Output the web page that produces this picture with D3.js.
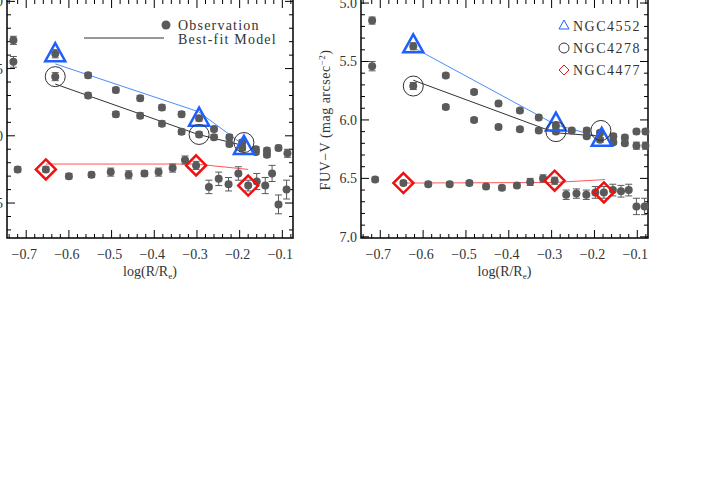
<!DOCTYPE html>
<html><head><meta charset="utf-8">
<script src="https://cdn.jsdelivr.net/npm/d3@7"></script>
<style>body{margin:0;background:#fff}svg{display:block}text{font-family:"Liberation Serif",serif;fill:#333}</style>
</head><body><svg id="c" width="706" height="504"></svg>
<script>
// left panel observations
const leftX = [-0.73,-0.73,-0.632,-0.632,-0.555,-0.555,-0.49,-0.49,-0.433,-0.433,-0.382,-0.382,-0.336,-0.336,-0.295,-0.295,-0.26,-0.26,-0.224,-0.224,-0.194,-0.194,-0.162,-0.162,-0.136,-0.136,-0.109,-0.088,
  -0.72,-0.654,-0.60,-0.547,-0.502,-0.46,-0.423,-0.39,-0.357,-0.328,-0.302,-0.272,-0.249,-0.226,-0.203,-0.18,-0.16,-0.14,-0.124,-0.109,-0.09]
const leftY = [2.29,2.45,2.39,2.56,2.55,2.70,2.66,2.84,2.72,2.85,2.79,2.91,2.84,2.97,2.87,2.99,2.95,3.01,3.01,3.06,3.05,3.09,3.10,3.12,3.11,3.14,3.09,3.13,
  3.25,3.25,3.30,3.29,3.27,3.29,3.28,3.27,3.24,3.18,3.22,3.38,3.32,3.36,3.28,3.37,3.34,3.37,3.28,3.51,3.40]
const leftErr = [0.03,0.04,0.03,0.03,0.02,0.02,0.02,0.02,0.02,0.02,0.02,0.02,0.02,0.02,0.02,0.02,0.02,0.02,0.02,0.02,0.02,0.02,0.02,0.02,0.02,0.02,0.02,0.03,
  0.02,0.02,0.02,0.02,0.03,0.03,0.02,0.03,0.03,0.03,0.03,0.05,0.05,0.05,0.05,0.04,0.06,0.06,0.06,0.07,0.07]
// right panel observations
const rightX = [-0.719,-0.719,-0.623,-0.623,-0.547,-0.547,-0.481,-0.481,-0.424,-0.424,-0.374,-0.374,-0.33,-0.33,-0.29,-0.29,-0.253,-0.218,-0.218,-0.187,-0.187,-0.156,-0.156,-0.129,-0.129,-0.102,-0.102,-0.081,-0.081,
  -0.712,-0.646,-0.588,-0.538,-0.492,-0.453,-0.416,-0.381,-0.35,-0.32,-0.293,-0.266,-0.242,-0.219,-0.198,-0.178,-0.157,-0.138,-0.12,-0.102,-0.083]
const rightY = [5.15,5.54,5.37,5.71,5.62,5.89,5.76,6.00,5.86,6.06,5.92,6.08,5.98,6.09,6.05,6.10,6.09,6.09,6.14,6.11,6.17,6.14,6.19,6.15,6.20,6.10,6.22,6.10,6.22,
  6.51,6.54,6.55,6.55,6.54,6.57,6.58,6.56,6.53,6.50,6.52,6.64,6.63,6.64,6.62,6.62,6.60,6.61,6.60,6.74,6.74]
const rightErr = [0.03,0.04,0.03,0.03,0.02,0.02,0.02,0.02,0.02,0.02,0.02,0.02,0.02,0.02,0.02,0.02,0.02,0.02,0.02,0.02,0.02,0.02,0.02,0.02,0.02,0.02,0.03,0.02,0.03,
  0.02,0.02,0.02,0.02,0.02,0.02,0.02,0.02,0.03,0.03,0.03,0.04,0.04,0.04,0.05,0.05,0.05,0.05,0.05,0.07,0.07]
// best-fit models: x and y per galaxy
const modelX = {n4552: [-0.632,-0.297,-0.194], n4278: [-0.632,-0.297,-0.194], n4477: [-0.654,-0.302,-0.18]}
const leftModel = {n4552: [2.465,2.82,3.06], n4278: [2.615,2.99,3.07], n4477: [3.21,3.21,3.25]}
const modelXR = {n4552: [-0.623,-0.291,-0.183], n4278: [-0.623,-0.291,-0.183], n4477: [-0.646,-0.294,-0.175]}
const rightModel = {n4552: [5.38,6.04,6.15], n4278: [5.66,6.11,6.14], n4477: [6.54,6.535,6.51]}
// marker points
const leftMarkX = {n4552: [-0.632,-0.295,-0.19], n4278: [-0.632,-0.295,-0.19], n4477: [-0.654,-0.302,-0.18]}
const leftMarkY = {n4552: [2.40,2.88,3.09], n4278: [2.56,2.99,3.05], n4477: [3.25,3.22,3.37]}
const rightMarkX = {n4552: [-0.623,-0.29,-0.183], n4278: [-0.623,-0.29,-0.185], n4477: [-0.646,-0.293,-0.178]}
const rightMarkY = {n4552: [5.37,6.04,6.17], n4278: [5.71,6.10,6.09], n4477: [6.54,6.52,6.62]}
const xTicks = [-0.7,-0.6,-0.5,-0.4,-0.3,-0.2,-0.1]
const leftYTicks = [2.0,2.5,3.0,3.5]
const rightYTicks = [5.0,5.5,6.0,6.5,7.0]
const colors = {n4552: '#1f5fff', n4278: '#333', n4477: '#ee1111'}
const lineColors = {n4552: '#4a8cff', n4278: '#333', n4477: '#ff5555'}
const names = {n4552: 'NGC4552', n4278: 'NGC4278', n4477: 'NGC4477'}

const svg = d3.select('#c')
const grey = '#5a5a5a'

function panel (x0, x1, yDom, yTicks, xs, ys, es, mx, my, kx, ky) {
  const x = d3.scaleLinear().domain([-0.745, -0.075]).range([x0, x1])
  const y = d3.scaleLinear().domain(yDom).range([0, 238])
  const g = svg.append('g')
  g.append('rect').attr('x', x0).attr('y', -2).attr('width', x1 - x0).attr('height', 240)
    .attr('fill', 'none').attr('stroke', '#000').attr('stroke-width', 1.5)
  // ticks
  const xt = d3.range(-0.74, -0.075, 0.02)
  xt.forEach(v => {
    const major = xTicks.some(t => Math.abs(t - v) < 1e-6)
    const l = major ? 8 : 4
    g.append('line').attr('x1', x(v)).attr('x2', x(v)).attr('y1', 238).attr('y2', 238 - l).attr('stroke', '#000')
    g.append('line').attr('x1', x(v)).attr('x2', x(v)).attr('y1', 0).attr('y2', l).attr('stroke', '#000')
  })
  const yt = d3.range(yDom[0] - (yDom[0] % 0.1) , yDom[1], 0.1)
  yt.forEach(v => {
    const major = yTicks.some(t => Math.abs(t - v) < 1e-6)
    const l = major ? 8 : 4
    g.append('line').attr('y1', y(v)).attr('y2', y(v)).attr('x1', x0).attr('x2', x0 + l).attr('stroke', '#000')
    g.append('line').attr('y1', y(v)).attr('y2', y(v)).attr('x1', x1).attr('x2', x1 - l).attr('stroke', '#000')
  })
  xTicks.forEach(t => g.append('text').attr('x', x(t) - 2).attr('y', 259).attr('text-anchor', 'middle')
    .attr('font-size', 14).text(d3.format('.1f')(t).replace('-', '−')))
  yTicks.forEach(t => g.append('text').attr('x', x0 - 4).attr('y', y(t) + 5).attr('text-anchor', 'end')
    .attr('font-size', 14).text(d3.format('.1f')(t)))
  g.append('text').attr('x', (x0 + x1) / 2).attr('y', 276).attr('text-anchor', 'middle').attr('font-size', 14)
    .html('log(R/R<tspan font-size="9" dy="3">e</tspan><tspan dy="-3">)</tspan>')
  // models
  Object.keys(mx).forEach(k => {
    g.append('path').datum(d3.zip(mx[k], my[k]))
      .attr('d', d3.line().x(d => x(d[0])).y(d => y(d[1])))
      .attr('fill', 'none').attr('stroke', lineColors[k]).attr('stroke-width', 1)
  })
  // observations
  const pts = d3.zip(xs, ys, es)
  const cg = g.append('g').attr('stroke', grey)
  pts.forEach(d => {
    if (x(d[0]) > x1) return
    cg.append('line').attr('x1', x(d[0])).attr('x2', x(d[0])).attr('y1', y(d[1] - d[2])).attr('y2', y(d[1] + d[2]))
    ;[-1, 1].forEach(s => cg.append('line').attr('x1', x(d[0]) - 3.5).attr('x2', x(d[0]) + 3.5)
      .attr('y1', y(d[1] + s * d[2])).attr('y2', y(d[1] + s * d[2])))
    g.append('circle').attr('cx', x(d[0])).attr('cy', y(d[1])).attr('r', 4).attr('fill', grey)
  })
  // markers
  Object.keys(kx).forEach(k => {
    kx[k].forEach((v, i) => marker(g, k, x(v), y(ky[k][i]), 1))
  })
  return { x, y }
}

function marker (g, k, cx, cy, s) {
  if (k === 'n4552') {
    g.append('path').attr('d', `M${cx},${cy - 12 * s}L${cx + 10 * s},${cy + 6 * s}L${cx - 10 * s},${cy + 6 * s}Z`)
      .attr('fill', 'none').attr('stroke', colors[k]).attr('stroke-width', s === 1 ? 2.5 : 1)
  } else if (k === 'n4278') {
    g.append('circle').attr('cx', cx).attr('cy', cy).attr('r', 10 * s).attr('fill', 'none')
      .attr('stroke', colors[k]).attr('stroke-width', 1)
  } else {
    g.append('path').attr('d', `M${cx},${cy - 10 * s}L${cx + 10 * s},${cy}L${cx},${cy + 10 * s}L${cx - 10 * s},${cy}Z`)
      .attr('fill', 'none').attr('stroke', colors[k]).attr('stroke-width', s === 1 ? 2.5 : 1)
  }
}

panel(7, 293, [1.99, 3.76], leftYTicks, leftX, leftY, leftErr, modelX, leftModel, leftMarkX, leftMarkY)
panel(361, 648, [4.974, 7.01], rightYTicks, rightX, rightY, rightErr, modelXR, rightModel, rightMarkX, rightMarkY)

// left legend
svg.append('circle').attr('cx', 166).attr('cy', 25).attr('r', 4.5).attr('fill', grey)
svg.append('text').attr('x', 178).attr('y', 30).attr('font-size', 14).attr('letter-spacing', 1.2).text('Observation')
svg.append('line').attr('x1', 84).attr('x2', 164).attr('y1', 38).attr('y2', 38).attr('stroke', '#333')
svg.append('text').attr('x', 178).attr('y', 44).attr('font-size', 14).attr('letter-spacing', 1.2).text('Best-fit Model')
// right legend
;['n4552', 'n4278', 'n4477'].forEach((k, i) => {
  marker(svg, k, 564, 26 + i * 22, 0.5)
  svg.append('text').attr('x', 573).attr('y', 31 + i * 22).attr('font-size', 14).attr('letter-spacing', 1.5).text(names[k])
})
svg.append('text').attr('transform', 'translate(330,120) rotate(-90)').attr('text-anchor', 'middle').attr('font-size', 14)
  .attr('letter-spacing', 0.5)
  .html('FUV−V (mag arcsec<tspan font-size="9" dy="-5">−2</tspan><tspan dy="5">)</tspan>')
</script></body></html>
